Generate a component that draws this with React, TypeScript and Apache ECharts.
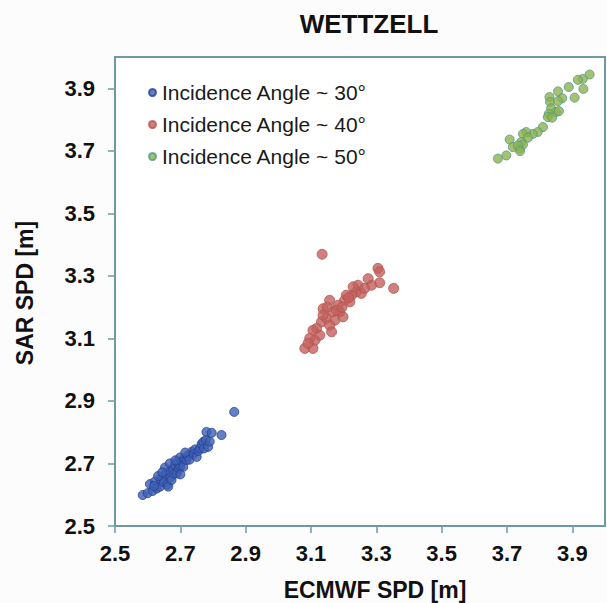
import React, { useEffect, useRef } from "react";
import * as echarts from "echarts";

const seriesNames = ["Incidence Angle ~ 30°", "Incidence Angle ~ 40°", "Incidence Angle ~ 50°"];

const blue: number[][] = [
  [2.585, 2.599], [2.6, 2.605], [2.607, 2.634], [2.615, 2.612], [2.622, 2.642], [2.628, 2.62],
  [2.638, 2.626], [2.64, 2.648], [2.643, 2.658], [2.65, 2.64], [2.653, 2.687], [2.655, 2.665],
  [2.66, 2.632], [2.663, 2.626], [2.665, 2.672], [2.668, 2.7], [2.67, 2.655], [2.673, 2.647],
  [2.678, 2.682], [2.68, 2.668], [2.684, 2.695], [2.689, 2.668], [2.69, 2.705], [2.695, 2.684],
  [2.699, 2.719], [2.7, 2.69], [2.705, 2.706], [2.709, 2.689], [2.712, 2.715], [2.719, 2.711],
  [2.722, 2.725], [2.728, 2.712], [2.735, 2.737], [2.74, 2.73], [2.745, 2.745], [2.75, 2.721],
  [2.755, 2.74], [2.76, 2.748], [2.765, 2.762], [2.77, 2.769], [2.772, 2.748], [2.778, 2.775],
  [2.78, 2.801], [2.785, 2.753], [2.79, 2.77], [2.796, 2.798], [2.826, 2.791], [2.865, 2.865],
  [2.632, 2.66], [2.645, 2.672], [2.7, 2.665], [2.715, 2.735], [2.62, 2.628], [2.685, 2.71],
];

const red: number[][] = [
  [3.134, 3.369], [3.305, 3.324], [3.31, 3.313], [3.353, 3.26], [3.31, 3.278], [3.285, 3.27],
  [3.275, 3.291], [3.244, 3.27], [3.239, 3.249], [3.224, 3.238], [3.208, 3.238], [3.203, 3.222],
  [3.219, 3.217], [3.183, 3.206], [3.188, 3.185], [3.157, 3.222], [3.137, 3.195], [3.167, 3.185],
  [3.147, 3.164], [3.173, 3.158], [3.198, 3.169], [3.132, 3.153], [3.157, 3.142], [3.117, 3.132],
  [3.163, 3.121], [3.106, 3.126], [3.096, 3.1], [3.112, 3.094], [3.081, 3.068], [3.106, 3.068],
  [3.091, 3.084], [3.127, 3.11], [3.137, 3.174], [3.254, 3.244], [3.264, 3.26], [3.229, 3.265],
  [3.215, 3.23], [3.178, 3.19], [3.15, 3.2], [3.195, 3.2],
];

const green: number[][] = [
  [3.953, 3.944], [3.932, 3.93], [3.917, 3.927], [3.934, 3.898], [3.889, 3.904], [3.907, 3.87],
  [3.856, 3.89], [3.869, 3.868], [3.83, 3.872], [3.832, 3.856], [3.856, 3.859], [3.835, 3.836],
  [3.85, 3.824], [3.859, 3.827], [3.828, 3.818], [3.825, 3.808], [3.838, 3.806], [3.81, 3.776],
  [3.794, 3.76], [3.779, 3.754], [3.759, 3.76], [3.749, 3.754], [3.764, 3.742], [3.708, 3.736],
  [3.744, 3.728], [3.718, 3.712], [3.739, 3.707], [3.749, 3.72], [3.733, 3.717], [3.698, 3.685],
  [3.672, 3.675], [3.74, 3.699],
];

const axisMin = 2.5;
const axisMax = 4.0;
const tickStep = 0.2;

const FONT = "'Liberation Sans', Arial, sans-serif";
const AXIS_COLOR = "#6f9aa5";

export default function App() {
  const ref = useRef<HTMLDivElement>(null);
  useEffect(() => {
    if (!ref.current) return;
    const chart = echarts.init(ref.current, undefined, { renderer: "svg" });
    const tickLabel = {
      fontSize: 22,
      fontWeight: "bold" as const,
      color: "#111",
      fontFamily: FONT,
    };
    const fmt = (v: number) => (v + axisMin).toFixed(1);
    const span = axisMax - axisMin;
    chart.setOption({
      animation: false,
      backgroundColor: "#fcfcfd",
      textStyle: { fontFamily: FONT },
      grid: {
        left: 115,
        top: 57,
        right: 2,
        bottom: 77,
        show: true,
        backgroundColor: "#ffffff",
        borderColor: AXIS_COLOR,
        borderWidth: 2,
      },
      legend: {
        orient: "vertical",
        left: 143,
        top: 77,
        itemGap: 11,
        itemWidth: 7,
        itemHeight: 7,
        icon: "circle",
        data: seriesNames,
        textStyle: { fontSize: 21, color: "#1a1a1a", fontFamily: FONT, padding: [0, 0, 0, 1] },
      },
      xAxis: [
        {
          type: "value",
          min: axisMin,
          max: axisMax,
          axisLine: { show: true, lineStyle: { color: AXIS_COLOR, width: 2 } },
          axisTick: { show: false },
          axisLabel: { show: false },
          splitLine: { show: false },
        },
        {
          type: "value",
          position: "bottom",
          min: 0,
          max: span,
          interval: tickStep,
          axisLine: { show: false },
          axisTick: { show: true, length: 7, lineStyle: { color: AXIS_COLOR, width: 1.5 } },
          axisLabel: { ...tickLabel, margin: 16, formatter: fmt, showMaxLabel: false },
          splitLine: { show: false },
        },
      ],
      yAxis: [
        {
          type: "value",
          min: axisMin,
          max: axisMax,
          axisLine: { show: true, lineStyle: { color: AXIS_COLOR, width: 2 } },
          axisTick: { show: false },
          axisLabel: { show: false },
          splitLine: { show: false },
        },
        {
          type: "value",
          position: "left",
          min: 0,
          max: span,
          interval: tickStep,
          axisLine: { show: false },
          axisTick: { show: true, length: 7, lineStyle: { color: AXIS_COLOR, width: 1.5 } },
          axisLabel: { ...tickLabel, margin: 20, formatter: fmt, showMaxLabel: false },
          splitLine: { show: false },
        },
      ],
      graphic: [
        {
          type: "text",
          x: 369,
          y: 24,
          style: {
            text: "WETTZELL",
            fontSize: 26,
            fontWeight: "bold",
            fill: "#111",
            fontFamily: FONT,
            align: "center",
            verticalAlign: "middle",
          },
        },
        {
          type: "text",
          x: 375,
          y: 590,
          style: {
            text: "ECMWF SPD [m]",
            fontSize: 23,
            fontWeight: "bold",
            fill: "#111",
            fontFamily: FONT,
            align: "center",
            verticalAlign: "middle",
          },
        },
        {
          type: "text",
          x: 25,
          y: 293,
          rotation: Math.PI / 2,
          style: {
            text: "SAR SPD [m]",
            fontSize: 23,
            fontWeight: "bold",
            fill: "#111",
            fontFamily: FONT,
            align: "center",
            verticalAlign: "middle",
          },
        },
      ],
      series: [
        {
          name: seriesNames[0],
          type: "scatter",
          xAxisIndex: 0,
          yAxisIndex: 0,
          data: blue,
          symbolSize: 9,
          itemStyle: { color: "#3d5fb4", borderColor: "#26408f", borderWidth: 1 },
        },
        {
          name: seriesNames[1],
          type: "scatter",
          xAxisIndex: 0,
          yAxisIndex: 0,
          data: red,
          symbolSize: 10,
          itemStyle: { color: "#c2625e", borderColor: "#b55450", borderWidth: 1 },
        },
        {
          name: seriesNames[2],
          type: "scatter",
          xAxisIndex: 0,
          yAxisIndex: 0,
          data: green,
          symbolSize: 9,
          itemStyle: { color: "#8fb14e", borderColor: "#4f9a8c", borderWidth: 1 },
        },
      ],
    });
    return () => chart.dispose();
  }, []);
  return (
    <div
      ref={ref}
      style={{ position: "fixed", left: 0, top: 0, width: 607, height: 603 }}
    />
  );
}
